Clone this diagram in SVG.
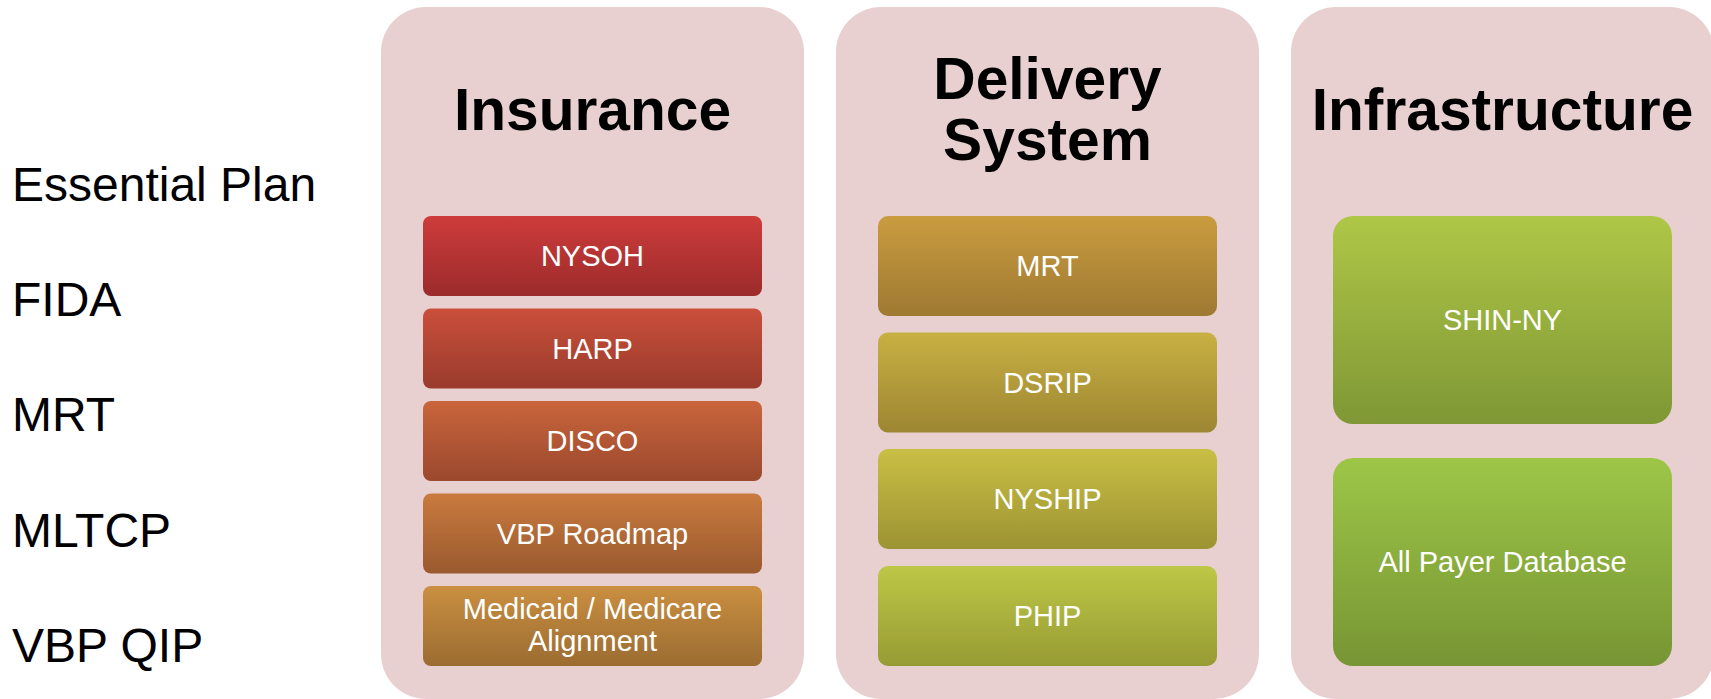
<svg xmlns="http://www.w3.org/2000/svg" width="1711" height="699" viewBox="0 0 1711 699">
  <style>
    .panel { fill: #E8D0D1; }
    .head { font-family: "Liberation Sans", Arial, sans-serif; font-weight: bold; font-size: 58.7px; fill: #000; text-anchor: middle; }
    .side { font-family: "Liberation Sans", Arial, sans-serif; font-size: 48px; fill: #000; }
    .lbl { font-family: "Liberation Sans", Arial, sans-serif; font-size: 29px; fill: #fff; text-anchor: middle; }
  </style>
  <defs>
    <linearGradient id="g1" x1="0" y1="0" x2="0" y2="1"><stop offset="0" stop-color="#CD3C3B"/><stop offset="1" stop-color="#9C2B2B"/></linearGradient>
    <linearGradient id="g2" x1="0" y1="0" x2="0" y2="1"><stop offset="0" stop-color="#CA4F3B"/><stop offset="1" stop-color="#9A3B2C"/></linearGradient>
    <linearGradient id="g3" x1="0" y1="0" x2="0" y2="1"><stop offset="0" stop-color="#C9653C"/><stop offset="1" stop-color="#9B482E"/></linearGradient>
    <linearGradient id="g4" x1="0" y1="0" x2="0" y2="1"><stop offset="0" stop-color="#C97A3E"/><stop offset="1" stop-color="#9A5A2F"/></linearGradient>
    <linearGradient id="g5" x1="0" y1="0" x2="0" y2="1"><stop offset="0" stop-color="#CA8F41"/><stop offset="1" stop-color="#9B6C31"/></linearGradient>
    <linearGradient id="d1" x1="0" y1="0" x2="0" y2="1"><stop offset="0" stop-color="#CA9C3F"/><stop offset="1" stop-color="#9E7932"/></linearGradient>
    <linearGradient id="d2" x1="0" y1="0" x2="0" y2="1"><stop offset="0" stop-color="#C9B043"/><stop offset="1" stop-color="#9C8632"/></linearGradient>
    <linearGradient id="d3" x1="0" y1="0" x2="0" y2="1"><stop offset="0" stop-color="#C9BF45"/><stop offset="1" stop-color="#9C9333"/></linearGradient>
    <linearGradient id="d4" x1="0" y1="0" x2="0" y2="1"><stop offset="0" stop-color="#BEC746"/><stop offset="1" stop-color="#979B34"/></linearGradient>
    <linearGradient id="f1" x1="0" y1="0" x2="0" y2="1"><stop offset="0" stop-color="#AFC746"/><stop offset="1" stop-color="#7F9735"/></linearGradient>
    <linearGradient id="f2" x1="0" y1="0" x2="0" y2="1"><stop offset="0" stop-color="#9DC647"/><stop offset="1" stop-color="#779534"/></linearGradient>
  </defs>

  <rect width="1711" height="699" fill="#fff"/>

  <!-- program list on the left -->
  <g id="programs">
    <text class="side" x="12" y="201">Essential Plan</text>
    <text class="side" x="12" y="316">FIDA</text>
    <text class="side" x="12" y="431">MRT</text>
    <text class="side" x="12" y="547">MLTCP</text>
    <text class="side" x="12" y="662">VBP QIP</text>
  </g>

  <!-- Insurance column -->
  <g id="insurance">
    <rect class="panel" x="381" y="7" width="423" height="692" rx="45"/>
    <text class="head" x="592.5" y="130">Insurance</text>
  </g>
  <g id="nysoh"><rect x="423" y="216" width="339" height="80" rx="8" fill="url(#g1)"/><text class="lbl" x="592.5" y="266">NYSOH</text></g>
  <g id="harp"><rect x="423" y="308.5" width="339" height="80" rx="8" fill="url(#g2)"/><text class="lbl" x="592.5" y="358.5">HARP</text></g>
  <g id="disco"><rect x="423" y="401" width="339" height="80" rx="8" fill="url(#g3)"/><text class="lbl" x="592.5" y="451">DISCO</text></g>
  <g id="vbp-roadmap"><rect x="423" y="493.5" width="339" height="80" rx="8" fill="url(#g4)"/><text class="lbl" x="592.5" y="543.5">VBP Roadmap</text></g>
  <g id="medicaid-medicare"><rect x="423" y="586" width="339" height="80" rx="8" fill="url(#g5)"/><text class="lbl" x="592.5" y="619">Medicaid / Medicare</text><text class="lbl" x="592.5" y="651">Alignment</text></g>

  <!-- Delivery System column -->
  <g id="delivery">
    <rect class="panel" x="836" y="7" width="423" height="692" rx="45"/>
    <text class="head" x="1047.5" y="99">Delivery</text>
    <text class="head" x="1047.5" y="160">System</text>
  </g>
  <g id="mrt"><rect x="878" y="216" width="339" height="100" rx="10" fill="url(#d1)"/><text class="lbl" x="1047.5" y="276">MRT</text></g>
  <g id="dsrip"><rect x="878" y="332.5" width="339" height="100" rx="10" fill="url(#d2)"/><text class="lbl" x="1047.5" y="393">DSRIP</text></g>
  <g id="nyship"><rect x="878" y="449" width="339" height="100" rx="10" fill="url(#d3)"/><text class="lbl" x="1047.5" y="509">NYSHIP</text></g>
  <g id="phip"><rect x="878" y="566" width="339" height="100" rx="10" fill="url(#d4)"/><text class="lbl" x="1047.5" y="626">PHIP</text></g>

  <!-- Infrastructure column -->
  <g id="infrastructure">
    <rect class="panel" x="1291" y="7" width="423" height="692" rx="45"/>
    <text class="head" x="1502.5" y="130">Infrastructure</text>
  </g>
  <g id="shin-ny"><rect x="1333" y="216" width="339" height="208" rx="20" fill="url(#f1)"/><text class="lbl" x="1502.5" y="330">SHIN-NY</text></g>
  <g id="all-payer"><rect x="1333" y="458" width="339" height="208" rx="20" fill="url(#f2)"/><text class="lbl" x="1502.5" y="572">All Payer Database</text></g>

  <!-- no connectors in this figure -->
  <g id="connectors"/>
</svg>
